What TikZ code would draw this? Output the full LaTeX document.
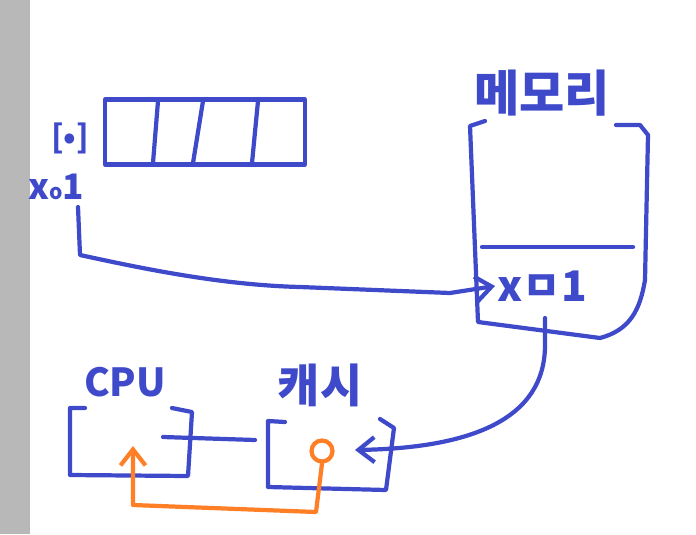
\documentclass[tikz,border=0pt]{standalone}
\usepackage{fontspec}
\setmainfont{Noto Sans CJK KR}
\usetikzlibrary{positioning,arrows.meta}
\definecolor{pen}{HTML}{3F4ACB}
\definecolor{hilite}{HTML}{FF7F27}
\tikzset{
  stroke/.style={draw=pen, line width=2.4pt, line cap=round, line join=round},
  hotline/.style={draw=hilite, line width=2.4pt, line cap=round, line join=round},
  hand/.style={text=pen, inner sep=1pt, font=\bfseries\fontsize{22}{24}\selectfont},
  bigcell/.style={stroke, minimum width=4.0cm, minimum height=1.3cm, inner sep=0pt},
  penarrow/.style={-{Straight Barb[length=3.2mm, width=5mm, line width=2.4pt]}}
}

\begin{document}
\begin{tikzpicture}[x=0.02cm, y=-0.02cm]
  \useasboundingbox (0,0) rectangle (696,534);
  \fill[black!28] (0,0) rectangle (30,534);

  % array at top left
  \node[bigcell] (arr) at (205,132) {};
  \draw[stroke] (158,101) -- (153,163);
  \draw[stroke] (203,101) -- (193,163);
  \draw[stroke] (258,101) -- (252,163);
  \node[hand, font=\bfseries\fontsize{18}{20}\selectfont] (cell) at (70,138) {[•]};
  \node[hand, font=\bfseries\fontsize{20}{22}\selectfont] (xo) at (56,187) {x{\fontsize{12}{12}\selectfont o}1};

  % memory
  \node[hand, font=\bfseries\fontsize{28}{30}\selectfont] (memlabel) at (542,93) {메모리};
  \draw[stroke] (485,121) -- (470,126) -- (478,322) -- (600,338)
    .. controls (630,330) and (640,310) .. (645,280) -- (648,135) -- (640,125) -- (616,125);
  \draw[stroke] (482,247) -- (633,247);
  \node[hand, font=\bfseries\fontsize{24}{26}\selectfont] (memx) at (542,286) {xㅁ1};
  \coordinate (membot) at (545,318);

  % cpu
  \node[hand] (cpulabel) at (125,382) {CPU};
  \draw[stroke] (85,408) -- (70,408) -- (70,475) -- (188,476) -- (192,412) -- (172,408);
  \coordinate (cpuout) at (163,437);

  % cache
  \node[hand, font=\bfseries\fontsize{26}{28}\selectfont] (cachelabel) at (320,385) {캐시};
  \draw[stroke] (285,422) -- (268,421) -- (268,487) -- (386,490) -- (394,428) -- (380,419);
  \node[draw=hilite, line width=2.4pt, circle, minimum size=0.42cm, inner sep=0pt] (hit) at (322,451) {};
  \coordinate (cachein) at (255,440);
  \coordinate (cacheend) at (355,450);

  % connectors
  \draw[stroke, penarrow] (78,207) -- (80,255) .. controls (140,268) and (220,285) .. (300,287)
    -- (450,293) -- (memx.west);
  \draw[stroke, penarrow] (membot) -- (545,345) .. controls (545,420) and (470,448) .. (cacheend);
  \draw[stroke] (cpuout) -- (cachein);
  \draw[hotline, penarrow] (hit.south) -- (316,512) -- (133,505) -- (133,446);
\end{tikzpicture}
\end{document}
